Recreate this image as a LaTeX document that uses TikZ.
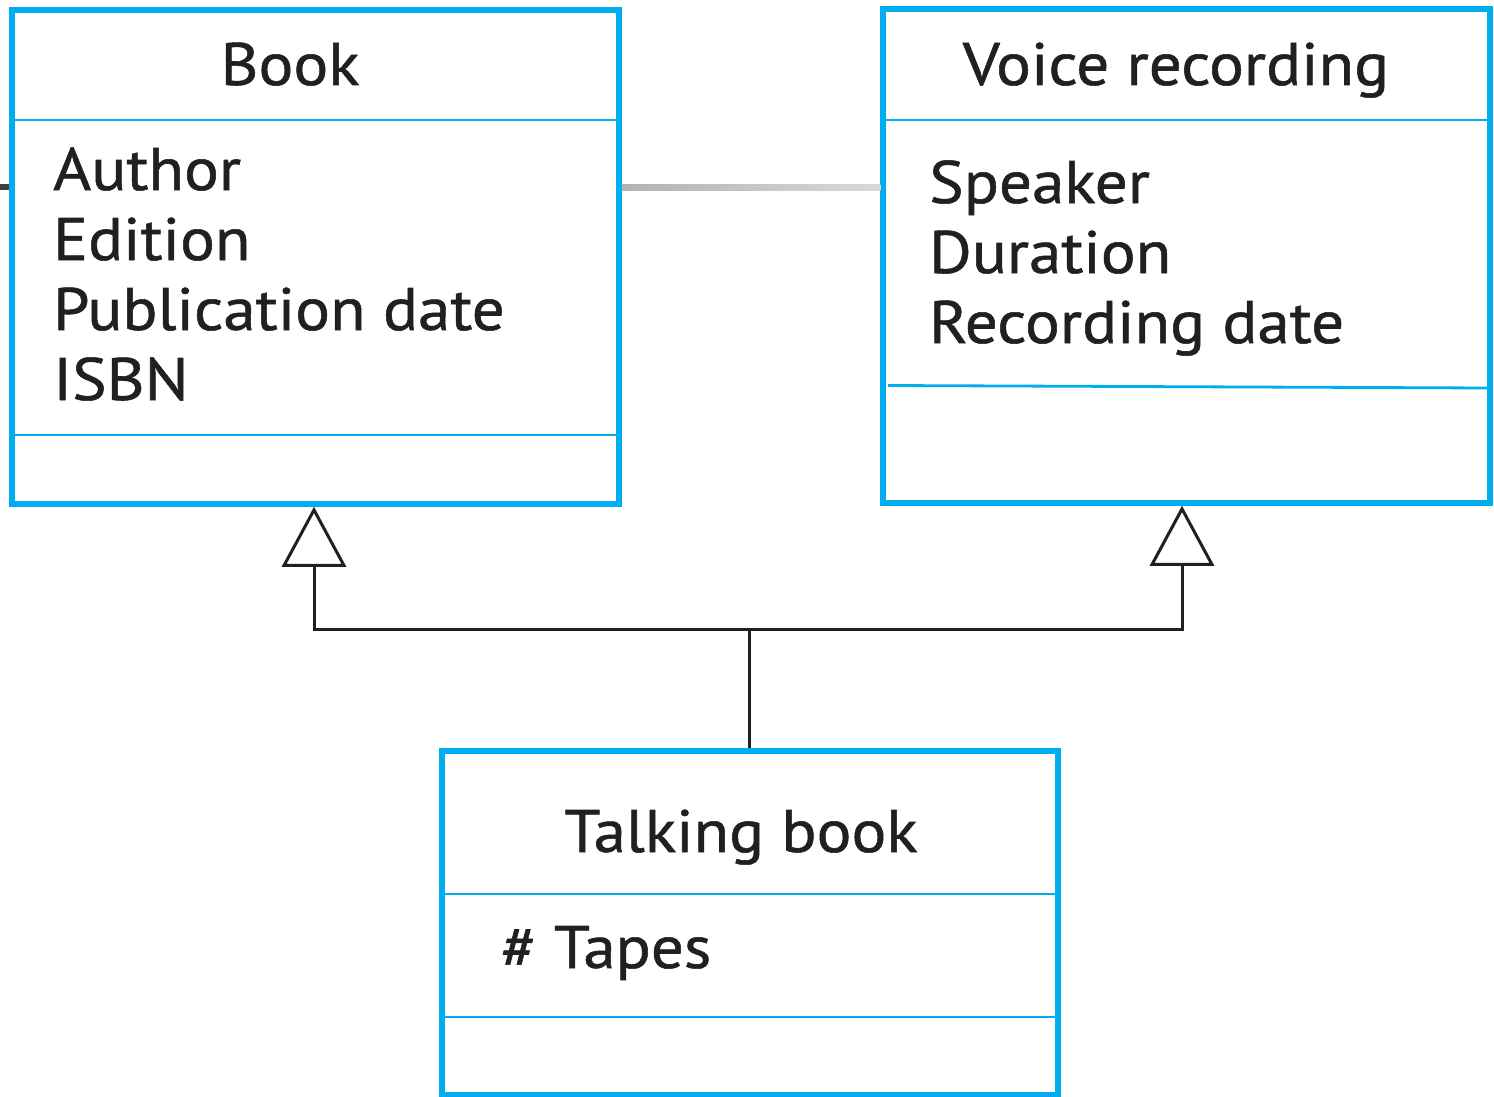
\documentclass[tikz,border=0pt]{standalone}
\usepackage{fontspec}
\setmainfont{PT Sans}[FakeStretch=1.085,FakeBold=0.9]
\usetikzlibrary{arrows.meta,calc}
\definecolor{umlblue}{HTML}{00AEEF}
\definecolor{ink}{HTML}{231F20}
\begin{document}
\begin{tikzpicture}[x=1pt,y=-1pt,
  classbox/.style={draw=umlblue,line width=5.5,inner sep=0,rectangle},
  divider/.style={draw=umlblue,line width=2.8},
  title/.style={inner sep=0,anchor=base,text=ink,font=\fontsize{60}{70}\selectfont},
  attr/.style={inner sep=0,anchor=base west,text=ink,font=\fontsize{60}{70}\selectfont},
  gen/.style={draw=ink,line width=3,-{Triangle[open,length=60,width=64,line width=3]}}]
\useasboundingbox (0,0) rectangle (1494,1097);
% class boxes
\node[classbox,minimum width=607,minimum height=494] (book) at (315.5,257) {};
\node[classbox,minimum width=607,minimum height=494] (voice) at (1186.5,256) {};
\node[classbox,minimum width=616,minimum height=344] (talking) at (750,923) {};
% dividers
\draw[divider] (14,120) -- (617,120);
\draw[divider] (14,435) -- (617,435);
\draw[divider] (885,120) -- (1488,120);
\draw[divider] (888,385.5) -- (1488,388);
\draw[divider] (444,894) -- (1056,894);
\draw[divider] (444,1017) -- (1056,1017);
% titles
\node[title] (tbook) at (290,85) {Book};
\node[title] (tvoice) at (1176,85) {Voice recording};
\node[title] (ttalk) at (741,852) {Talking book};
% attributes
\node[attr] (a1) at (53,190) {Author};
\node[attr] (a2) at (53,260) {Edition};
\node[attr] (a3) at (53,330) {Publication date};
\node[attr] (a4) at (53,400) {ISBN};
\node[attr] (v1) at (929,203) {Speaker};
\node[attr] (v2) at (929,273) {Duration};
\node[attr] (v3) at (929,343) {Recording date};
\node[attr] (t1) at (501,968) {\# Tapes};
% association line
\coordinate (aL) at ($(book.east |- 0,187)$);
\coordinate (aR) at ($(voice.west |- 0,187)$);
\shade[left color=black!30,right color=black!15] ($(aL)+(0,-3)$) rectangle ($(aR)+(0,3)$);
\coordinate (lm) at (0,187);
\draw[line width=6,draw=black!75] (lm) -- (book.west |- lm);
% generalisation
\coordinate (j) at (749,629);
\draw[gen] (talking.north -| j) -- (j) -| (book.south -| 314,0);
\draw[gen] (j) -| (voice.south -| 1182,0);
\end{tikzpicture}
\end{document}
